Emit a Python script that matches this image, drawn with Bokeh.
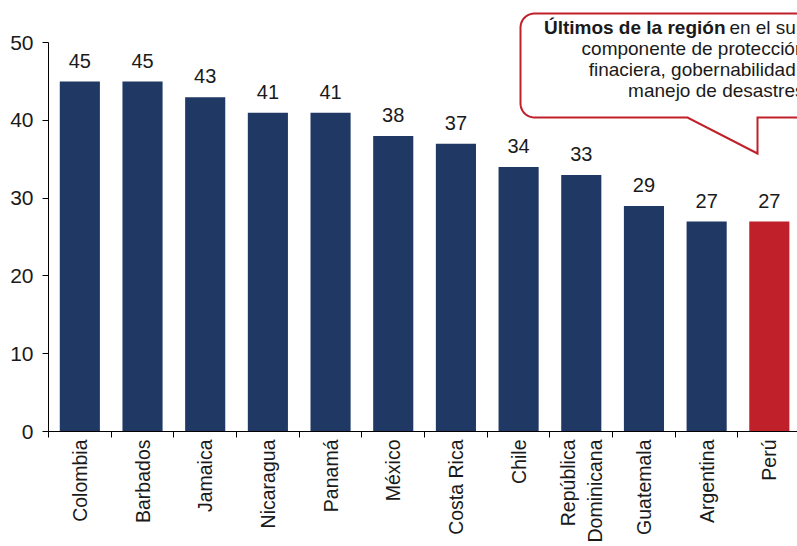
import numpy as np
from bokeh.plotting import figure
from bokeh.models import Range1d, FixedTicker, Label, ColumnDataSource
from bokeh.embed import file_html
from bokeh.resources import INLINE
from bokeh.core.properties import value

# ---- data ----
countries = ["Colombia", "Barbados", "Jamaica", "Nicaragua", "Panamá", "México",
             "Costa Rica", "Chile", "República\nDominicana", "Guatemala",
             "Argentina", "Perú"]
scores = [45, 45, 43, 41, 41, 38, 37, 34, 33, 29, 27, 27]
highlight = "Perú"
y_ticks = [0, 10, 20, 30, 40, 50]
callout_bold = "Últimos de la región"
callout_line1 = "en el sub"
callout_lines = ["componente de protección", "finaciera, gobernabilidad y", "manejo de desastres"]

NAVY = "#1F3864"
RED = "#C0202A"
TXT = "#1a1a1a"
FONT = "Liberation Sans"

# ---- layout (canvas pixels) ----
W, H = 797, 546
BL, BB = 48, 115
FW, FH = W - BL, H - BB
X0 = 0.5
SX = 62.68                 # px per category
XSPAN = FW / SX
SY = 7.776                 # px per unit
YSPAN = FH / SY


def px2u(px):
    return X0 + (px - BL) / SX


def py2v(py):
    return (FH - py) / SY


xs = list(range(1, len(countries) + 1))
colors = [RED if c == highlight else NAVY for c in countries]

p = figure(width=W, height=H, x_range=Range1d(X0, X0 + XSPAN), y_range=Range1d(0, YSPAN),
           output_backend="svg", toolbar_location=None,
           min_border_left=BL, min_border_right=0, min_border_top=0, min_border_bottom=BB)
p.outline_line_color = None
p.xgrid.visible = False
p.ygrid.visible = False
p.background_fill_color = "white"
p.border_fill_color = "white"

src = ColumnDataSource(dict(x=xs, top=scores, color=colors, label=[str(s) for s in scores]))
p.vbar(x="x", top="top", bottom=0, width=0.64, fill_color="color", line_color=None, source=src)
p.text(x="x", y="top", text="label", source=src, text_align="center",
       text_baseline="middle", y_offset=-21, text_font=value(FONT),
       text_font_size="20px", text_color=TXT)

# ---- axes ----
xa = p.xaxis[0]
xa.ticker = FixedTicker(ticks=xs, minor_ticks=[i + 0.5 for i in range(0, len(xs) + 1)])
xa.major_label_overrides = {x: c for x, c in zip(xs, countries)}
xa.major_label_orientation = np.pi / 2
xa.major_label_standoff = 2
xa.major_label_text_font = FONT
xa.major_label_text_font_size = "19.5px"
xa.major_label_text_color = TXT
xa.major_label_text_line_height = 1.25
xa.major_tick_out = 0
xa.major_tick_in = 0
xa.minor_tick_out = 6
xa.minor_tick_in = 0
xa.minor_tick_line_color = "black"
xa.axis_line_color = "black"

ya = p.yaxis[0]
ya.ticker = FixedTicker(ticks=y_ticks)
ya.bounds = (0, 50)
ya.major_tick_out = 6
ya.major_tick_in = 0
ya.minor_tick_out = 0
ya.minor_tick_in = 0
ya.major_label_standoff = 9
ya.major_label_text_font = FONT
ya.major_label_text_font_size = "21px"
ya.major_label_text_color = TXT
ya.axis_line_color = "black"
ya.major_tick_line_color = "black"

# ---- callout bubble (annotation geometry in canvas pixels, converted) ----
r = 14
L, T, B, R = 520, 13, 117, 840
pts = [(L + r, T), (R, T), (R, B), (757, B), (757, 153), (687, B), (L + r, B)]
for t in np.linspace(np.pi / 2, np.pi, 10):
    pts.append((L + r + r * np.cos(t), B - r + r * np.sin(t)))
for t in np.linspace(np.pi, 1.5 * np.pi, 10):
    pts.append((L + r + r * np.cos(t), T + r + r * np.sin(t)))
p.patch([px2u(a) for a, b in pts], [py2v(b) for a, b in pts], fill_color="white",
        line_color=RED, line_width=2, line_join="miter")

p.add_layout(Label(x=px2u(725), y=py2v(26.5), text=callout_bold, text_font=FONT,
                   text_font_style="bold", text_font_size="19px", text_color=TXT,
                   text_align="right", text_baseline="middle"))
p.add_layout(Label(x=px2u(806), y=py2v(26.5), text=callout_line1, text_font=FONT,
                   text_font_size="19px", text_color=TXT,
                   text_align="right", text_baseline="middle"))
for i, (line, rx) in enumerate(zip(callout_lines, [805, 810, 804])):
    p.add_layout(Label(x=px2u(rx), y=py2v(47.5 + 21 * i), text=line, text_font=FONT,
                       text_font_size="19px", text_color=TXT,
                       text_align="right", text_baseline="middle"))

open("out.html", "w").write(file_html(p, INLINE))
